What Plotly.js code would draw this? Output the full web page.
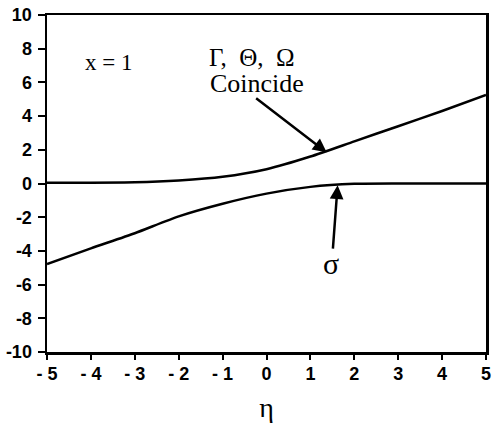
<!DOCTYPE html>
<html>
<head>
<meta charset="utf-8">
<script src="https://cdn.plot.ly/plotly-3.0.1.min.js"></script>
<style>
body { margin: 0; background: #fff; }
#chart { width: 492px; height: 423px; }
</style>
</head>
<body>
<div id="chart"></div>
<script>
// eta values and the two curves (x = 1)
var eta = [-5, -4, -3, -2, -1, 0, 1, 2, 3, 4, 5];
var gammaThetaOmega = [0.05, 0.05, 0.07, 0.18, 0.4, 0.85, 1.6, 2.5, 3.4, 4.3, 5.25];
var sigma = [-4.78, -3.85, -2.95, -1.95, -1.2, -0.6, -0.2, -0.02, 0, 0, 0];

var xTicks = [-5, -4, -3, -2, -1, 0, 1, 2, 3, 4, 5];
var xTickText = ['- 5', '- 4', '- 3', '- 2', '- 1', '0', '1', '2', '3', '4', '5'];
var yTicks = [-10, -8, -6, -4, -2, 0, 2, 4, 6, 8, 10];
var yTickText = ['-10', '-8', '-6', '-4', '-2', '0', '2', '4', '6', '8', '10'];

var serif = 'Liberation Serif, Times New Roman, serif';
var sans = 'Liberation Sans, Arial, sans-serif';

function bold(list) {
    return list.map(function(t) { return '<b>' + t + '</b>'; });
}

var trace1 = {
    type: 'scatter',
    mode: 'lines',
    x: eta,
    y: gammaThetaOmega,
    line: { color: '#000', width: 2.5, shape: 'spline', smoothing: 0.6 },
    hoverinfo: 'skip'
};

var trace2 = {
    type: 'scatter',
    mode: 'lines',
    x: eta,
    y: sigma,
    line: { color: '#000', width: 2.5, shape: 'spline', smoothing: 0.6 },
    hoverinfo: 'skip'
};

var layout = {
    width: 492,
    height: 423,
    margin: { l: 47, r: 6, t: 15, b: 71 },
    paper_bgcolor: '#fff',
    plot_bgcolor: '#fff',
    showlegend: false,
    xaxis: {
        range: [-5, 5],
        tickvals: xTicks,
        ticktext: bold(xTickText),
        ticks: 'outside',
        ticklen: 5,
        tickwidth: 2,
        tickcolor: '#000',
        ticklabelstandoff: -1,
        showline: true,
        linewidth: 2.5,
        linecolor: '#000',
        mirror: true,
        showgrid: false,
        zeroline: false,
        tickfont: { family: sans, size: 18, color: '#000' },
        title: { text: 'η', font: { family: serif, size: 28, color: '#000' }, standoff: 22 }
    },
    yaxis: {
        range: [-10, 10],
        tickvals: yTicks,
        ticktext: bold(yTickText),
        ticks: 'outside',
        ticklen: 7,
        tickwidth: 2,
        tickcolor: '#000',
        ticklabelstandoff: 2,
        showline: true,
        linewidth: 2.5,
        linecolor: '#000',
        mirror: true,
        showgrid: false,
        zeroline: false,
        tickfont: { family: sans, size: 18, color: '#000' }
    },
    annotations: [
        { x: -3.61, y: 7.2, xref: 'x', yref: 'y', text: 'x = 1', showarrow: false,
          font: { family: serif, size: 23, color: '#000' } },
        { x: -0.34, y: 7.5, xref: 'x', yref: 'y', text: 'Γ,  Θ,  Ω', showarrow: false,
          font: { family: serif, size: 25, color: '#000' } },
        { x: -0.21, y: 5.96, xref: 'x', yref: 'y', text: 'Coincide', showarrow: false,
          font: { family: serif, size: 26, color: '#000' } },
        { x: 1.37, y: 1.85, xref: 'x', yref: 'y', ax: -0.27, ay: 5.13, axref: 'x', ayref: 'y',
          text: '', showarrow: true, arrowhead: 2, arrowsize: 1.1, arrowwidth: 2.5, arrowcolor: '#000' },
        { x: 1.62, y: -0.1, xref: 'x', yref: 'y', ax: 1.51, ay: -3.95, axref: 'x', ayref: 'y',
          text: '', showarrow: true, arrowhead: 2, arrowsize: 1.1, arrowwidth: 2.5, arrowcolor: '#000' },
        { x: 1.46, y: -4.72, xref: 'x', yref: 'y', text: 'σ', showarrow: false,
          font: { family: serif, size: 30, color: '#000' } }
    ]
};

Plotly.newPlot('chart', [trace1, trace2], layout, { displayModeBar: false, staticPlot: true });
</script>
</body>
</html>
